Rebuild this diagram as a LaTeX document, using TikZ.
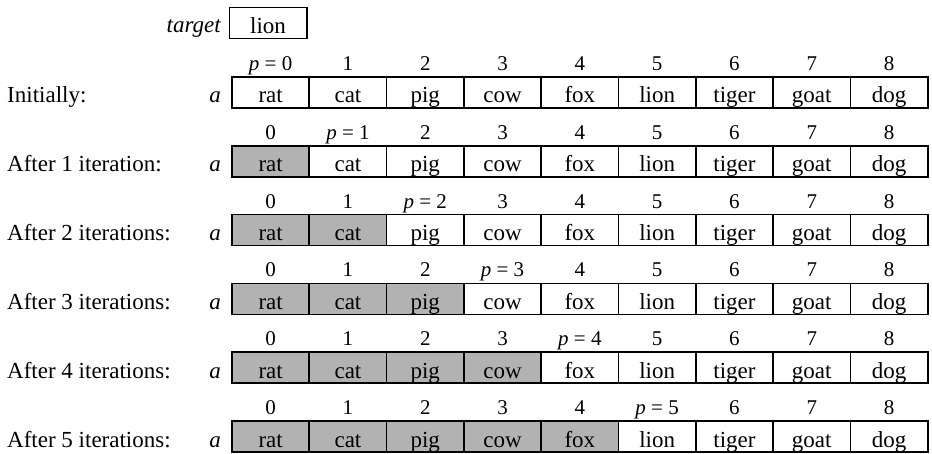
\documentclass[tikz,border=0pt]{standalone}
\usepackage{fontspec}
\setmainfont{Liberation Serif}

\begin{document}
\begin{tikzpicture}[
  x=1pt, y=-1pt,
  font=\fontsize{23}{27}\selectfont,
  cell/.style={rectangle, draw, line width=1.7pt, minimum width=77.3pt, minimum height=31pt, inner sep=0pt, text height=21pt, text depth=0pt},
  idx/.style={anchor=base, inner sep=0pt, font=\fontsize{21}{25}\selectfont},
  rowlab/.style={anchor=base west, inner sep=0pt},
  varlab/.style={anchor=base, inner sep=0pt, font=\fontsize{23}{27}\selectfont\itshape}
]
  \useasboundingbox (0,0) rectangle (932,454);
  % the value searched for
  \node[cell] (target) at (268,23) {lion};
  \node[varlab, anchor=base east] (targetlab) at (221,32.7) {target};
  % the array after each pass of the loop
  \foreach \lab [count=\r from 0] in {Initially:, After 1 iteration:, After 2 iterations:, After 3 iterations:, After 4 iterations:, After 5 iterations:} {
    \pgfmathsetmacro{\yc}{92.5+68.8*\r}
    \node[rowlab] (lab-\r) at (7,\yc+10.5) {\lab};
    \node[varlab] (a-\r) at (215,\yc+10.5) {a};
    \foreach \w [count=\c from 0] in {rat,cat,pig,cow,fox,lion,tiger,goat,dog} {
      \pgfmathsetmacro{\xc}{270.65+77.3*\c}
      \ifnum\c<\r \def\fillc{black!30}\else\def\fillc{white}\fi
      \node[cell, fill=\fillc] (c-\r-\c) at (\xc,\yc) {\w};
      \ifnum\c=\r
        \node[idx] (i-\r-\c) at (\xc,\yc-22) {\textit{p} = \c};
      \else
        \node[idx] (i-\r-\c) at (\xc,\yc-22) {\c};
      \fi
    }
  }
\end{tikzpicture}
\end{document}
